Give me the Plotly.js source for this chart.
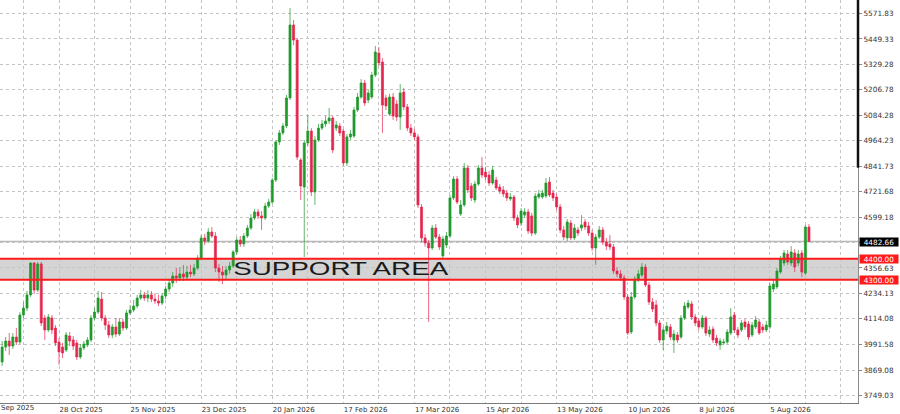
<!DOCTYPE html>
<html>
<head>
<meta charset="utf-8">
<script src="https://cdn.plot.ly/plotly-3.0.1.min.js"></script>
<style>
html,body{margin:0;padding:0;background:#fff;}
#chart{width:900px;height:414px;}
</style>
</head>
<body>
<div id="chart"></div>
<script>
// Daily XAU/USD-style candles
const opens = [
3908,3979,4008,3984,4027,4003,4132,4165,4228,4380,
4251,4376,4118,4061,4118,4070,4003,3979,3965,4032,
4013,3999,3932,3975,3989,4013,4118,4146,4208,4118,
4084,4037,4075,4041,4099,4070,4142,4156,4175,4213,
4228,4213,4228,4208,4199,4189,4223,4256,4285,4318,
4309,4328,4313,4337,4328,4356,4404,4500,4485,4528,
4509,4356,4337,4323,4347,4366,4433,4490,4471,4509,
4547,4595,4624,4605,4595,4652,4671,4776,4958,5001,
5034,5168,5516,5444,4872,4743,4953,5010,4719,4967,
5024,5044,5058,5072,5024,5034,5010,4858,4982,4986,
5110,5172,5239,5158,5172,5277,5382,5339,5168,5091,
5172,5139,5077,5196,5125,5024,5001,4982,4647,4500,
4476,4452,4547,4504,4414,4466,4509,4691,4781,4614,
4657,4834,4748,4681,4757,4834,4814,4800,4762,4776,
4743,4729,4714,4686,4695,4595,4571,4609,4624,4605,
4523,4695,4695,4700,4767,4714,4695,4648,4538,4500,
4571,4500,4538,4547,4576,4557,4523,4452,4504,4538,
4480,4471,4457,4342,4328,4309,4218,4051,4218,4299,
4323,4361,4275,4194,4180,4094,4013,4056,4075,4013,
4037,4027,4118,4170,4185,4123,4104,4075,4118,4041,
4065,4022,3989,3999,4003,4046,4132,4061,4061,4099,
4089,4037,4075,4099,4075,4061,4075,4256,4266,4337,
4380,4423,4380,4428,4380,4428,4332,4552
];
const highs = [
4008,4027,4046,4046,4070,4146,4194,4247,4385,4385,
4385,4385,4132,4137,4132,4084,4022,3999,4051,4051,
4032,4013,3994,4008,4027,4132,4165,4247,4242,4132,
4104,4089,4118,4118,4113,4156,4180,4204,4228,4251,
4242,4251,4247,4237,4228,4237,4271,4304,4337,4356,
4361,4371,4366,4371,4376,4418,4514,4519,4547,4552,
4528,4376,4366,4366,4385,4442,4504,4509,4523,4562,
4614,4638,4638,4628,4667,4686,4786,4967,5015,5048,
5182,5597,5540,5454,4881,4967,5086,5024,4986,5044,
5063,5082,5120,5082,5058,5048,5020,4996,5015,5125,
5192,5258,5254,5206,5292,5416,5411,5358,5182,5187,
5192,5158,5234,5215,5139,5044,5020,4996,4662,4519,
4490,4562,4566,4519,4509,4528,4705,4795,4795,4681,
4858,4848,4762,4772,4848,4886,4839,4819,4843,4791,
4757,4748,4729,4714,4705,4609,4642,4642,4638,4619,
4714,4729,4729,4786,4791,4729,4710,4662,4557,4590,
4586,4566,4552,4609,4590,4576,4538,4519,4557,4552,
4500,4514,4471,4361,4347,4323,4232,4242,4318,4347,
4380,4376,4290,4213,4204,4108,4075,4099,4089,4061,
4051,4132,4194,4204,4199,4137,4118,4132,4127,4079,
4079,4037,4022,4018,4065,4165,4146,4075,4108,4113,
4104,4099,4127,4113,4089,4104,4285,4299,4356,4414,
4442,4442,4461,4447,4442,4442,4562,4566
];
const lows = [
3889,3960,3941,3970,3989,3994,4118,4151,4218,4232,
4242,4079,4013,4051,4041,3984,3894,3927,3956,3984,
3965,3917,3922,3965,3979,4003,4108,4137,4104,4061,
4022,4022,4027,4032,4056,4061,4132,4146,4165,4204,
4199,4194,4194,4185,4175,4180,4208,4242,4266,4285,
4294,4294,4304,4313,4318,4347,4395,4466,4476,4500,
4337,4290,4280,4299,4328,4356,4418,4457,4457,4500,
4538,4586,4590,4538,4586,4642,4662,4767,4943,4991,
5024,5158,5420,4872,4681,4409,4939,4700,4657,4958,
5015,5029,5044,4905,5010,4986,4843,4843,4967,4977,
5101,5163,5130,5144,5163,5268,5320,5001,5110,5082,
5063,5058,5015,5110,5010,4986,4967,4642,4480,4457,
4099,4442,4495,4442,4399,4452,4500,4681,4662,4605,
4648,4714,4676,4667,4748,4786,4776,4748,4753,4729,
4710,4695,4676,4676,4581,4547,4557,4595,4519,4509,
4514,4686,4686,4691,4695,4676,4633,4523,4490,4485,
4490,4490,4509,4533,4538,4509,4438,4371,4495,4466,
4442,4442,4328,4313,4294,4204,4037,4041,4208,4290,
4313,4266,4180,4146,4079,3999,3965,4041,4013,3951,
3999,4018,4108,4161,4108,4079,4061,4065,4032,4027,
3999,3984,3965,3989,3994,4037,4046,4022,4051,4061,
4013,4027,4065,4037,4046,4051,4065,4242,4256,4328,
4366,4371,4366,4337,4366,4313,4323,4480
];
const closes = [
3979,4008,3984,4027,4003,4132,4165,4228,4380,4251,
4376,4094,4061,4123,4061,3999,3956,3951,4037,4008,
3984,3932,3975,3994,4013,4118,4146,4213,4118,4084,
4037,4075,4041,4099,4070,4142,4156,4175,4213,4228,
4213,4228,4208,4199,4189,4223,4256,4285,4318,4309,
4328,4313,4337,4328,4356,4404,4500,4485,4528,4509,
4356,4337,4323,4347,4366,4433,4490,4471,4509,4547,
4595,4624,4605,4595,4652,4671,4776,4958,5001,5034,
5168,5516,5444,4886,4748,4953,5010,4719,4967,5024,
5044,5058,5072,4920,5039,5001,4858,4982,4996,5110,
5172,5239,5144,5192,5277,5387,5335,5134,5130,5172,
5082,5077,5192,5125,5024,5001,4982,4657,4500,4476,
4452,4547,4504,4457,4495,4509,4691,4781,4671,4657,
4834,4729,4691,4757,4834,4800,4791,4762,4824,4738,
4724,4710,4691,4695,4595,4562,4628,4624,4533,4523,
4700,4710,4714,4762,4705,4691,4648,4538,4504,4576,
4500,4547,4523,4562,4552,4523,4452,4504,4538,4480,
4461,4457,4342,4328,4309,4218,4046,4218,4304,4328,
4361,4275,4194,4161,4094,4013,4061,4079,4027,4041,
4013,4118,4175,4189,4123,4094,4075,4118,4046,4061,
4013,3999,4008,4003,4051,4123,4061,4037,4094,4075,
4027,4084,4108,4046,4061,4084,4271,4280,4342,4399,
4428,4385,4433,4361,4423,4337,4552,4482.66
];

// Axis ticks (bar numbers for the dates, price levels)
const gridBars = [6,16,26,36,46,56,66,76,86,96,106,116,126,136,146,156,166,176,186,196,206,216,226,236];
const dateBars = [16,36,56,76,96,116,136,156,176,196,216];
const dateLabels = ['28 Oct 2025','25 Nov 2025','23 Dec 2025','20 Jan 2026','17 Feb 2026','17 Mar 2026','15 Apr 2026','13 May 2026','10 Jun 2026','8 Jul 2026','5 Aug 2026'];
const firstDateLabel = 'Sep 2025';   // visible part of the label cut by the left edge
const priceTicks = [5571.83,5449.33,5329.28,5206.78,5084.28,4964.23,4841.73,4721.68,4599.18,4478.13,4356.63,4234.13,4114.08,3991.58,3869.08,3749.03];
const priceTickText = ['5571.83','5449.33','5329.28','5206.78','5084.28','4964.23','4841.73','4721.68','4599.18','','4356.63','4234.13','4114.08','3991.58','3869.08','3749.03'];
const lastPrice = 4482.66;
const supportTop = 4400.00;
const supportBottom = 4300.00;
const supportLabel = 'SUPPORT AREA';

const bars = opens.map((_, i) => i);
const xRange = [-0.6, 240.8];
const yRange = [3712.2, 5635.3];

const UP = '#1f9a2c';
const DOWN = '#e5264f';

const candles = {
  type: 'candlestick',
  x: bars, open: opens, high: highs, low: lows, close: closes,
  increasing: {line: {color: UP, width: 0.7}, fillcolor: UP},
  decreasing: {line: {color: DOWN, width: 0.7}, fillcolor: DOWN},
  whiskerwidth: 0,
  hoverinfo: 'skip',
  showlegend: false
};

const xTickText = gridBars.map(b => {
  const k = dateBars.indexOf(b);
  return k >= 0 ? dateLabels[k] : '';
});

const dateFont = {family: 'DejaVu Sans, sans-serif', size: 7, color: '#333'};

const layout = {
  width: 900, height: 414,
  margin: {l: 0, r: 42, t: 0, b: 11, pad: 0},
  paper_bgcolor: '#ffffff',
  plot_bgcolor: '#ffffff',
  showlegend: false,
  boxgap: 0.18,
  font: {family: 'DejaVu Sans, sans-serif', size: 8, color: '#333'},
  xaxis: {
    type: 'linear', range: xRange, fixedrange: true,
    rangeslider: {visible: false},
    tickmode: 'array', tickvals: gridBars, ticktext: xTickText,
    ticklabelposition: 'outside right',
    ticks: '', showgrid: true, gridcolor: '#c4c4c4', griddash: 'dot', gridwidth: 1,
    zeroline: false, showline: true, linecolor: '#7a7a7a', linewidth: 1,
    tickfont: dateFont
  },
  yaxis: {
    side: 'right', range: yRange, fixedrange: true,
    tickmode: 'array', tickvals: priceTicks, ticktext: priceTickText,
    ticks: 'outside', ticklen: 3, tickcolor: '#888',
    showgrid: true, gridcolor: '#c4c4c4', griddash: 'dot', gridwidth: 1,
    zeroline: false, showline: true, linecolor: '#8a8a8a', linewidth: 1,
    tickfont: {family: 'DejaVu Sans, sans-serif', size: 7.3, color: '#333'}
  },
  shapes: [
    {type: 'rect', xref: 'paper', yref: 'y', x0: 0, x1: 1, y0: supportBottom, y1: supportTop,
     fillcolor: '#d4d4d4', line: {width: 0}, layer: 'below'},
    {type: 'line', xref: 'paper', yref: 'y', x0: 0, x1: 1, y0: supportTop, y1: supportTop,
     line: {color: '#ff1a1a', width: 2}, layer: 'above'},
    {type: 'line', xref: 'paper', yref: 'y', x0: 0, x1: 1, y0: supportBottom, y1: supportBottom,
     line: {color: '#ff1a1a', width: 2}, layer: 'above'},
    {type: 'line', xref: 'paper', yref: 'y', x0: 0, x1: 1, y0: lastPrice, y1: lastPrice,
     line: {color: '#b8b8b8', width: 1.5}, layer: 'below'},
    {type: 'line', xref: 'paper', yref: 'y', x0: 1, x1: 1, y0: 4835, y1: yRange[1],
     line: {color: '#111', width: 2.5}, layer: 'above'}
  ],
  annotations: [
    {xref: 'x', yref: 'y', x: 95.2, y: 4351, text: supportLabel, showarrow: false,
     xanchor: 'center', yanchor: 'middle',
     font: {family: 'Liberation Sans, Arial, sans-serif', size: 18, color: '#1a1a1a'}},
    {xref: 'paper', yref: 'y', x: 1, y: lastPrice, xanchor: 'left', yanchor: 'middle', xshift: 1,
     text: lastPrice.toFixed(2), showarrow: false, bgcolor: '#000', width: 38, height: 8, borderpad: 0,
     font: {family: 'DejaVu Sans, sans-serif', size: 7.3, color: '#fff'}},
    {xref: 'paper', yref: 'y', x: 1, y: supportTop, xanchor: 'left', yanchor: 'middle', xshift: 1,
     text: supportTop.toFixed(2), showarrow: false, bgcolor: '#ff1a1a', width: 38, height: 8, borderpad: 0,
     font: {family: 'DejaVu Sans, sans-serif', size: 7.3, color: '#fff'}},
    {xref: 'paper', yref: 'y', x: 1, y: supportBottom, xanchor: 'left', yanchor: 'middle', xshift: 1,
     text: supportBottom.toFixed(2), showarrow: false, bgcolor: '#ff1a1a', width: 38, height: 8, borderpad: 0,
     font: {family: 'DejaVu Sans, sans-serif', size: 7.3, color: '#fff'}},
    {xref: 'paper', yref: 'paper', x: 0, y: 0, xanchor: 'left', yanchor: 'top',
     text: firstDateLabel, showarrow: false, borderpad: 0, xshift: 0,
     font: dateFont}
  ]
};

Plotly.newPlot('chart', [candles], layout, {displayModeBar: false, staticPlot: true}).then(() => {
  document.querySelectorAll('.annotation-text').forEach(t => {
    if (t.textContent === supportLabel) {
      t.setAttribute('textLength', '215');
      t.setAttribute('lengthAdjust', 'spacingAndGlyphs');
    }
  });
});
</script>
</body>
</html>
